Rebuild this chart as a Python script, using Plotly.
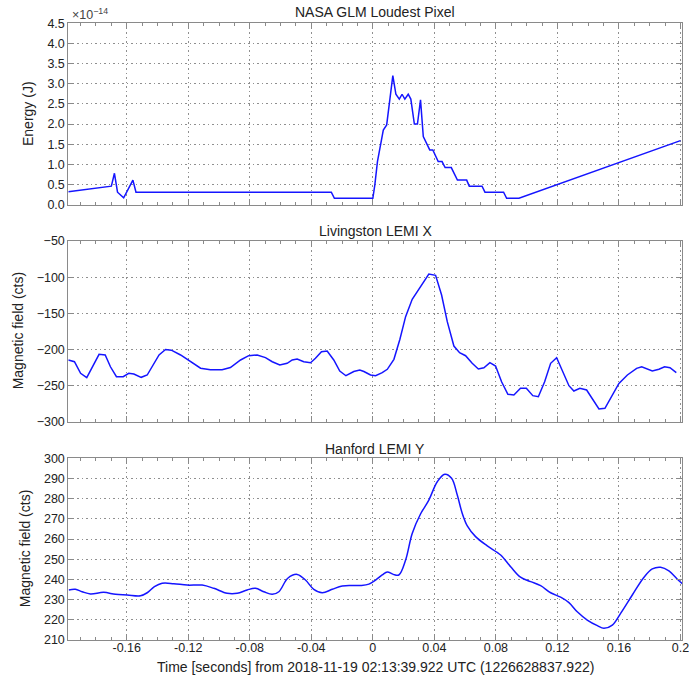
import plotly.graph_objects as go

# ---------------- data ----------------
glm_t = [-0.198, -0.170, -0.168, -0.166, -0.162, -0.156, -0.154, -0.027, -0.025,
         0.0, 0.0013, 0.003, 0.0068, 0.009, 0.013, 0.015, 0.0172, 0.019, 0.0208,
         0.023, 0.0247, 0.027, 0.029, 0.031, 0.0328, 0.035, 0.037, 0.039, 0.0425,
         0.045, 0.047, 0.051, 0.055, 0.061, 0.0627, 0.071, 0.0729, 0.085, 0.087,
         0.095, 0.2]
glm_e = [0.32, 0.46, 0.78, 0.31, 0.17, 0.61, 0.31, 0.31, 0.16,
         0.16, 0.49, 1.07, 1.85, 1.98, 3.2, 2.74, 2.62, 2.74, 2.62,
         2.74, 2.62, 2.0, 2.0, 2.6, 1.69, 1.5, 1.36, 1.36, 1.07,
         1.07, 0.92, 0.92, 0.61, 0.61, 0.46, 0.46, 0.31, 0.31, 0.16,
         0.16, 1.59]  # units of 1e-14 J

liv_t = [-0.198, -0.194, -0.190, -0.186, -0.178, -0.174, -0.1706, -0.1667, -0.1623,
         -0.1587, -0.1554, -0.1506, -0.1467, -0.139, -0.1348, -0.131, -0.125, -0.1186,
         -0.112, -0.1056, -0.098, -0.0926, -0.086, -0.0807, -0.0752, -0.0698, -0.0654,
         -0.0605, -0.0557, -0.0524, -0.0492, -0.0449, -0.0405, -0.0373, -0.0334, -0.0297,
         -0.0254, -0.0215, -0.0175, -0.0124, -0.0085, -0.0058, -0.0015, 0.0018, 0.0061,
         0.0094, 0.0137, 0.0176, 0.0213, 0.0256, 0.031, 0.0364, 0.0408, 0.0447, 0.0484,
         0.0527, 0.0564, 0.0603, 0.0646, 0.0686, 0.0722, 0.0761, 0.0798, 0.0837, 0.0878,
         0.0917, 0.096, 0.0998, 0.104, 0.1076, 0.1117, 0.1156, 0.1195, 0.1232, 0.1275,
         0.1307, 0.1346, 0.139, 0.1431, 0.147, 0.1509, 0.155, 0.16, 0.1655, 0.1715,
         0.1748, 0.1817, 0.186, 0.1897, 0.1932, 0.1973]
liv_b = [-214.6, -217, -233, -239, -206.8, -207.7, -224, -237.7, -237.7,
         -233, -234, -238.6, -235.4, -207.7, -200, -201, -207.7, -217,
         -226, -228, -228, -225, -214.6, -208.7, -207.7, -211.4, -217,
         -221.6, -219.2, -214.6, -213.2, -217, -218.4, -212.3, -203.1, -202.2,
         -214.6, -229.9, -236.4, -230.5, -228.5, -230.6, -235.4, -236.4, -232.2,
         -227.5, -213.7, -186, -154.7, -130.7, -113.2, -95.7, -97.5, -124.7, -161.6,
         -195.3, -204.5, -208.7, -219.2, -227.1, -225.3, -218.4, -223, -244.7, -262,
         -263, -253.8, -253.8, -264, -265.4, -244.7, -219.2, -211.4, -228.5, -250.2,
         -257.5, -253.8, -256.1, -270, -282.4, -281.4, -265.4, -247, -235.4, -226.2,
         -224, -229.9, -227.5, -224, -225.3, -232.2]

han_t = [-0.1977, -0.1934, -0.189, -0.1836, -0.175, -0.1673, -0.1597, -0.1511, -0.1467,
         -0.142, -0.137, -0.1294, -0.1207, -0.111, -0.1034, -0.0947, -0.0882, -0.0817,
         -0.0763, -0.0709, -0.0654, -0.0611, -0.0553, -0.0492, -0.0438, -0.0384, -0.0329,
         -0.0264, -0.0199, -0.008, -0.0026, 0.0018, 0.0061, 0.0094, 0.0133, 0.0169,
         0.0213, 0.0256, 0.031, 0.0364, 0.0419, 0.0468, 0.0512, 0.0549, 0.0581, 0.0614,
         0.0668, 0.0744, 0.0831, 0.0896, 0.096, 0.1026, 0.1091, 0.1156, 0.1221, 0.1275,
         0.1329, 0.1394, 0.146, 0.1502, 0.1557, 0.1611, 0.1687, 0.1763, 0.1817, 0.1871,
         0.1925, 0.198, 0.2016]
han_b = [234.8, 235.1, 233.9, 232.8, 233.6, 232.6, 232.3, 231.9, 233.4,
         236.4, 238.1, 237.9, 237.2, 237.2, 235.6, 233.1, 233.1, 234.8,
         235.6, 233.9, 232.6, 233.9, 240.6, 242.5, 239.7, 235.1, 233.4,
         235.1, 236.8, 237, 237.7, 239.7, 242.2, 243.7, 242.5, 242.2,
         249.6, 262.8, 272.4, 279.3, 288.4, 292.1, 290.1, 281.8, 272.8, 266.5,
         261.2, 256.6, 252.1, 246.3, 241.1, 238.9, 236.9, 233.4, 231.2, 228.5,
         224.0, 219.9, 217.1, 215.8, 217.4, 223.2, 232.3, 241.1, 245.2, 246,
         244.2, 240.1, 237.6]

titles = ["NASA GLM Loudest Pixel", "Livingston LEMI X", "Hanford LEMI Y"]
ylabels = ["Energy (J)", "Magnetic field (cts)", "Magnetic field (cts)"]
xlabel = "Time [seconds] from 2018-11-19 02:13:39.922 UTC (1226628837.922)"
x_tickvals = [-0.16, -0.12, -0.08, -0.04, 0, 0.04, 0.08, 0.12, 0.16, 0.2]
x_ticktext = ["-0.16", "-0.12", "-0.08", "-0.04", "0", "0.04", "0.08", "0.12", "0.16", "0.2"]

# ---------------- layout geometry ----------------
W, H = 689, 679
x0, x1 = 68.3 / W, 682.3 / W
doms = [(1 - 204.7 / H, 1 - 23.3 / H), (1 - 421.7 / H, 1 - 241 / H), (1 - 640 / H, 1 - 458.3 / H)]
FONT = "Liberation Sans, Arial, Helvetica, sans-serif"
FRAME = "#8a8a8a"
GRID = "#8f8f8f"
GRIDDASH = "1.5px,3px"
LINE = "#1515ff"

fig = go.Figure()
series = [(glm_t, glm_e), (liv_t, liv_b), (han_t, han_b)]
for i, (t, v) in enumerate(series):
    xa = "x" if i == 0 else f"x{i+1}"
    ya = "y" if i == 0 else f"y{i+1}"
    fig.add_trace(go.Scatter(
        x=t, y=v, xaxis=xa, yaxis=ya, mode="lines",
        line=dict(color=LINE, width=1.5, shape="spline" if i == 2 else "linear", smoothing=1.0),
        showlegend=False, hoverinfo="skip"))

xcommon = dict(range=[-0.198, 0.2012], domain=[x0, x1], showline=True, linecolor=FRAME,
               linewidth=1, mirror="allticks", ticks="inside", ticklen=6, tickcolor=FRAME,
               tickvals=x_tickvals, ticktext=x_ticktext, showgrid=True, gridcolor=GRID,
               griddash=GRIDDASH, gridwidth=1, zeroline=False, automargin=False,
               ticklabelstandoff=-4, ticklabeloverflow="allow",
               minor=dict(dtick=0.01, tick0=0, ticks="inside", ticklen=3, tickcolor=FRAME, showgrid=False),
               tickfont=dict(family=FONT, size=12.5, color="#222"))
ycommon = dict(showline=True, linecolor=FRAME, linewidth=1, mirror="allticks", ticks="inside",
               ticklen=6, tickcolor=FRAME, showgrid=True, gridcolor=GRID, griddash=GRIDDASH,
               gridwidth=1, zeroline=False, automargin=False, ticklabeloverflow="allow",
               tickfont=dict(family=FONT, size=12.5, color="#222"))

layout = dict(width=W, height=H, autosize=False,
              margin=dict(l=0, r=0, t=0, b=0, pad=0, autoexpand=False),
              paper_bgcolor="white", plot_bgcolor="white",
              font=dict(family=FONT, color="#222"))
layout["xaxis"] = dict(xcommon, anchor="y", showticklabels=False)
layout["xaxis2"] = dict(xcommon, anchor="y2", showticklabels=False, matches="x")
layout["xaxis3"] = dict(xcommon, anchor="y3", showticklabels=True, matches="x")
layout["yaxis"] = dict(ycommon, domain=list(doms[0]), anchor="x", range=[0, 4.5], dtick=0.5, tickformat=".1f")
layout["yaxis2"] = dict(ycommon, domain=list(doms[1]), anchor="x2", range=[-300, -50], dtick=50)
layout["yaxis3"] = dict(ycommon, domain=list(doms[2]), anchor="x3", range=[210, 300], dtick=10)
fig.update_layout(**layout)

ann = []
title_y = [12, 231, 449]
for i in range(3):
    ann.append(dict(text=titles[i], x=(x0 + x1) / 2, y=1 - title_y[i] / H, xref="paper", yref="paper",
                    showarrow=False, font=dict(family=FONT, size=14, color="#222"),
                    xanchor="center", yanchor="middle"))
ylab_x = [28, 18, 25]
ylab_y = [(23.3 + 204.7) / 2, (241 + 421.7) / 2, (458.3 + 640) / 2]
for i in range(3):
    ann.append(dict(text=ylabels[i], x=ylab_x[i] / W, y=1 - ylab_y[i] / H, xref="paper", yref="paper",
                    showarrow=False, textangle=-90, font=dict(family=FONT, size=14, color="#222"),
                    xanchor="center", yanchor="middle"))
ann.append(dict(text=xlabel, x=(x0 + x1) / 2, y=1 - 667 / H, xref="paper", yref="paper",
                showarrow=False, font=dict(family=FONT, size=14, color="#222"),
                xanchor="center", yanchor="middle"))
ann.append(dict(text="×10<sup>−14</sup>", x=70 / W, y=1 - 14 / H, xref="paper", yref="paper",
                showarrow=False, font=dict(family=FONT, size=12.5, color="#444"),
                xanchor="left", yanchor="middle"))
fig.update_layout(annotations=ann)

fig.write_html("out.html", config={"displayModeBar": False},
               post_script="document.body.style.margin='0';document.body.style.overflow='hidden';")
